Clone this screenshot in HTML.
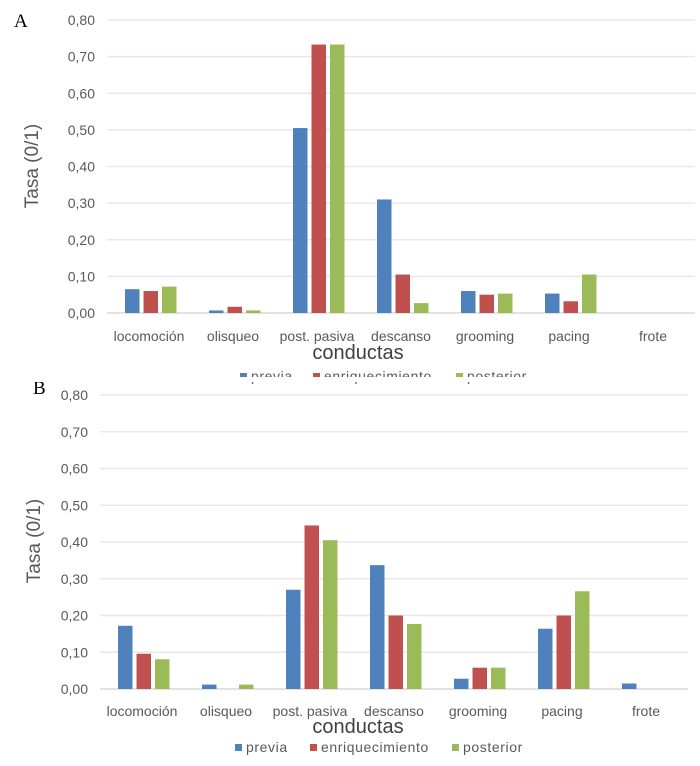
<!DOCTYPE html>
<html><head><meta charset="utf-8"><style>
body{margin:0;background:#fff}
svg{display:block;font-family:"Liberation Sans","DejaVu Sans",sans-serif}
</style></head><body>
<svg id="s" width="700" height="766">
<text x="14" y="27" font-family="Liberation Serif" font-size="19" fill="#000">A</text>
<text x="33" y="394" font-family="Liberation Serif" font-size="19" fill="#000">B</text>
</svg>
<script>
const categories=["locomoción","olisqueo","post. pasiva","descanso","grooming","pacing","frote"];
const seriesNames=["previa","enriquecimiento","posterior"];
const colors=["#4f81bd","#c0504d","#9bbb59"];
const ticks=["0,00","0,10","0,20","0,30","0,40","0,50","0,60","0,70","0,80"];
const tickVals=[0,0.1,0.2,0.3,0.4,0.5,0.6,0.7,0.8];
const aPrevia=[0.065,0.007,0.505,0.31,0.06,0.053,0];
const aEnriq=[0.06,0.017,0.733,0.105,0.05,0.032,0];
const aPost=[0.072,0.007,0.733,0.027,0.053,0.105,0];
const bPrevia=[0.172,0.012,0.27,0.337,0.028,0.164,0.015];
const bEnriq=[0.096,0,0.445,0.2,0.058,0.2,0];
const bPost=[0.081,0.012,0.405,0.177,0.058,0.266,0];
const NS='http://www.w3.org/2000/svg';
const svg=document.getElementById('s');
function mk(tag,attrs,parent){const e=document.createElementNS(NS,tag);for(const k in attrs)e.setAttribute(k,attrs[k]);(parent||svg).appendChild(e);return e;}
function chart(p,series){
  const g=mk('g',{});
  
  
  const y=v=>p.y0-(p.y0-p.y8)*v/0.8;
  const cw=(p.x1-p.x0)/categories.length;
  tickVals.forEach((v,i)=>{
    const l=mk('line',{x1:p.x0,x2:p.x1,y1:y(v),y2:y(v),stroke:i==0?'#d9d9d9':'#e8e8e8','stroke-width':1.5},g);
    
    
    const t=mk('text',{x:p.x0-12,y:y(v)+5,'text-anchor':'end','font-size':14,fill:'#595959'},g);
    t.textContent=ticks[i];
    
    
  });
  categories.forEach((c,ci)=>{
    const cx=p.x0+cw*(ci+0.5);
    series.forEach((arr,si)=>{
      const v=arr[ci];
      if(v<=0)return;
      const bx=cx-24+si*18.5;
      const r=mk('rect',{x:bx,y:y(v),width:14.5,height:y(0)-y(v),fill:colors[si]},g);
      
      
    });
    const t=mk('text',{x:cx,y:p.catY,'text-anchor':'middle','font-size':14,fill:'#595959'},g);
    t.textContent=c;
    
    
  });
  const yt=mk('text',{x:0,y:0,'text-anchor':'middle','font-size':19,fill:'#595959',transform:`translate(${p.ytx},${p.yty}) rotate(-90)`},g);
  yt.textContent='Tasa (0/1)';
  
  
  const xt=mk('text',{x:358,y:p.titleY,'text-anchor':'middle','font-size':20,fill:'#404040'},g);
  xt.textContent='conductas';
  
  
  const lx=p.legX;
  seriesNames.forEach((n,i)=>{
    const sq=mk('rect',{x:lx[i],y:p.legY-8,width:7,height:7,fill:colors[i]},g);
    
    
    const t=mk('text',{x:lx[i]+11,y:p.legY,'font-size':14,fill:'#595959','letter-spacing':'0.6'},g);
    t.textContent=n;
    
    
  });
  if(p.clip){
    const c=mk('rect',{x:0,y:p.clip,width:700,height:5,fill:'#fff'},g);
    
    
  }
}
chart({name:'chart-a',x0:107,x1:695,y0:313,y8:20,catY:341,titleY:359,ytx:38,yty:166,legX:[240,313,456],legY:381,clip:377},[aPrevia,aEnriq,aPost]);
chart({name:'chart-b',x0:100,x1:688,y0:689,y8:395,catY:716,titleY:733,ytx:40,yty:541,legX:[235,310,452],legY:752},[bPrevia,bEnriq,bPost]);
</script>
</body></html>
